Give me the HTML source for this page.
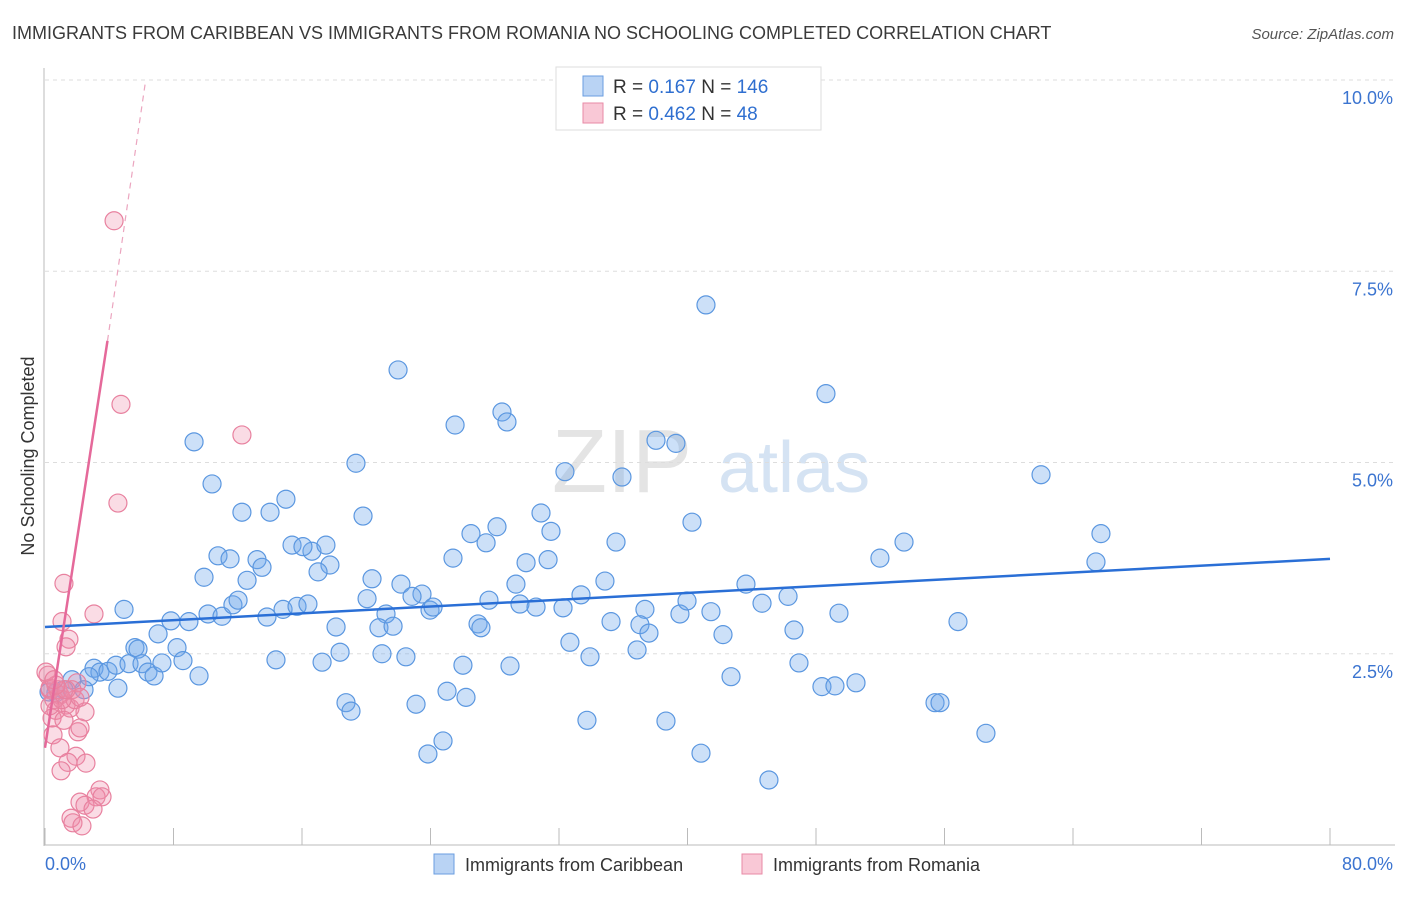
<!DOCTYPE html>
<html><head><meta charset="utf-8"><style>
body{margin:0;background:#fff;font-family:"Liberation Sans",sans-serif}
svg text{font-family:"Liberation Sans",sans-serif}
</style></head><body>
<svg width="1406" height="892" viewBox="0 0 1406 892">
<text x="12" y="39" font-size="18" fill="#3a3a3a">IMMIGRANTS FROM CARIBBEAN VS IMMIGRANTS FROM ROMANIA NO SCHOOLING COMPLETED CORRELATION CHART</text>
<text x="1394" y="39" font-size="15" font-style="italic" fill="#555" text-anchor="end">Source: ZipAtlas.com</text>
<g><text x="552" y="492" font-size="90" font-family="Liberation Serif" fill="#e4e4e4">ZIP</text><text x="718" y="492" font-size="72" fill="#d5e3f3">atlas</text></g>
<g id="grid"></g><g id="axes"></g><g id="pts"></g><g id="lines"></g>
<text transform="translate(34,456) rotate(-90)" font-size="18" fill="#333" text-anchor="middle">No Schooling Completed</text>
<text x="45" y="870" font-size="18" fill="#3b74d0">0.0%</text>
<text x="1393" y="870" font-size="18" fill="#3b74d0" text-anchor="end">80.0%</text>
<g>
<rect x="556" y="67" width="265" height="63" fill="#fff" stroke="#ddd"/>
<rect x="583" y="76" width="20" height="20" fill="#b9d3f4" stroke="#6a9ee0"/>
<text x="613" y="93" font-size="19" fill="#333">R = <tspan fill="#2f6fd0">0.167</tspan>   N = <tspan fill="#2f6fd0">146</tspan></text>
<rect x="583" y="103" width="20" height="20" fill="#f9c8d6" stroke="#e88aa6"/>
<text x="613" y="120" font-size="19" fill="#333">R = <tspan fill="#2f6fd0">0.462</tspan>   N =  <tspan fill="#2f6fd0"> 48</tspan></text>
</g>
<g><rect x="434" y="854" width="20" height="20" fill="#b9d3f4" stroke="#6a9ee0"/><text x="465" y="871" font-size="18" fill="#333">Immigrants from Caribbean</text></g>
<g><rect x="742" y="854" width="20" height="20" fill="#f9c8d6" stroke="#e88aa6"/><text x="773" y="871" font-size="18" fill="#333">Immigrants from Romania</text></g>
</svg>
<script>
const yTicks=[2.5,5.0,7.5,10.0];
const xTicks=[0,8,16,24,32,40,48,56,64,72,80];
const bluePx=[[706,305],[826,394],[398,370],[194,442],[455,425],[502,412],[507,422],[656,440],[676,443],[356,463],[565,472],[622,477],[212,484],[1041,475],[286,499],[242,512],[270,512],[363,516],[541,513],[497,527],[471,534],[551,531],[692,522],[1101,534],[218,556],[230,559],[257,560],[262,567],[247,580],[204,577],[292,545],[312,551],[326,545],[303,547],[330,565],[318,572],[453,558],[486,543],[526,563],[548,560],[616,542],[880,558],[904,542],[1096,562],[372,579],[401,584],[422,594],[412,596],[516,584],[605,581],[746,584],[124,609],[171,621],[189,622],[208,614],[222,616],[233,605],[238,600],[267,617],[283,609],[297,606],[308,604],[367,599],[386,614],[430,610],[433,607],[489,600],[520,604],[536,607],[563,608],[581,595],[645,609],[680,614],[687,601],[711,612],[762,603],[788,596],[839,613],[958,622],[158,634],[177,648],[135,648],[138,649],[336,627],[379,628],[393,626],[478,624],[481,628],[611,622],[640,625],[649,633],[723,635],[794,630],[94,668],[100,672],[108,671],[116,665],[129,664],[142,664],[148,672],[154,676],[162,663],[183,661],[199,676],[276,660],[322,662],[340,652],[382,654],[406,657],[463,665],[510,666],[570,642],[590,657],[637,650],[799,663],[731,677],[89,677],[72,680],[84,690],[64,690],[56,693],[49,692],[118,688],[447,691],[466,697],[346,703],[351,711],[416,704],[587,720],[666,721],[822,687],[835,686],[856,683],[935,703],[940,703],[986,733],[443,741],[428,754],[701,753],[769,780]];
const pinkPx=[[114,221],[121,404],[242,435],[118,503],[64,583],[62,622],[94,614],[69,639],[66,647],[48,675],[50,690],[60,695],[54,700],[66,705],[70,708],[56,710],[75,700],[85,712],[52,718],[77,683],[64,720],[53,735],[78,732],[80,728],[60,748],[76,756],[86,763],[68,762],[61,771],[100,790],[96,797],[102,797],[80,802],[85,805],[93,809],[71,818],[73,823],[82,826],[50,688],[58,690],[62,700],[72,690],[80,697],[66,690],[50,706],[56,685],[46,672],[54,680]];
// convert read positions into data units (x %, y %)
const blueX=bluePx.map(p=>+((p[0]-45)/1285*80).toFixed(2));
const blueY=bluePx.map(p=>+((845-p[1])/76.5).toFixed(2));
const pinkX=pinkPx.map(p=>+((p[0]-45)/1285*80).toFixed(2));
const pinkY=pinkPx.map(p=>+((845-p[1])/76.5).toFixed(2));
const blueLine=[[0,2.85],[80,3.74]];
const pinkLine=[[0,1.27],[3.89,6.59],[6.27,10.0]];
const sx=v=>45+v/80*1285, sy=v=>845-v*76.5;
const NS='http://www.w3.org/2000/svg';
function mk(t,a,par){const e=document.createElementNS(NS,t);for(const k in a)e.setAttribute(k,a[k]);document.getElementById(par).appendChild(e);return e;}
yTicks.forEach(t=>{
 const g=mk('line',{x1:45,x2:1395,y1:sy(t),y2:sy(t),stroke:'#ddd','stroke-dasharray':'4,4'},'grid');
 
 
 const l=mk('text',{x:1393,y:sy(t)+24,'font-size':18,fill:'#3b74d0','text-anchor':'end'},'grid');
 l.textContent=t.toFixed(1)+'%';
 
 
});
const ax=mk('line',{x1:44,x2:44,y1:68,y2:846,stroke:'#bbb'},'axes');


const bx=mk('line',{x1:44,x2:1395,y1:845,y2:845,stroke:'#bbb'},'axes');


xTicks.forEach(t=>{
 const k=mk('line',{x1:sx(t),x2:sx(t),y1:828,y2:845,stroke:'#bbb'},'axes');
 
 
});
blueX.forEach((x,i)=>{
 const c=mk('circle',{cx:sx(x),cy:sy(blueY[i]),r:9,fill:'rgba(110,165,235,0.35)',stroke:'#5b97e0','stroke-width':1.2},'pts');
 
 
});
pinkX.forEach((x,i)=>{
 const c=mk('circle',{cx:sx(x),cy:sy(pinkY[i]),r:9,fill:'rgba(240,140,170,0.3)',stroke:'#e8819f','stroke-width':1.2},'pts');
 
 
});
const bl=mk('line',{x1:sx(blueLine[0][0]),y1:sy(blueLine[0][1]),x2:sx(blueLine[1][0]),y2:sy(blueLine[1][1]),stroke:'#2a6fd6','stroke-width':2.5},'lines');


const pl=mk('line',{x1:sx(pinkLine[0][0]),y1:sy(pinkLine[0][1]),x2:sx(pinkLine[1][0]),y2:sy(pinkLine[1][1]),stroke:'#e5699a','stroke-width':2.5},'lines');


const pd=mk('line',{x1:sx(pinkLine[1][0]),y1:sy(pinkLine[1][1]),x2:sx(pinkLine[2][0]),y2:sy(pinkLine[2][1]),stroke:'#eba5bf','stroke-width':1.2,'stroke-dasharray':'6,5'},'lines');


</script>
</body></html>
